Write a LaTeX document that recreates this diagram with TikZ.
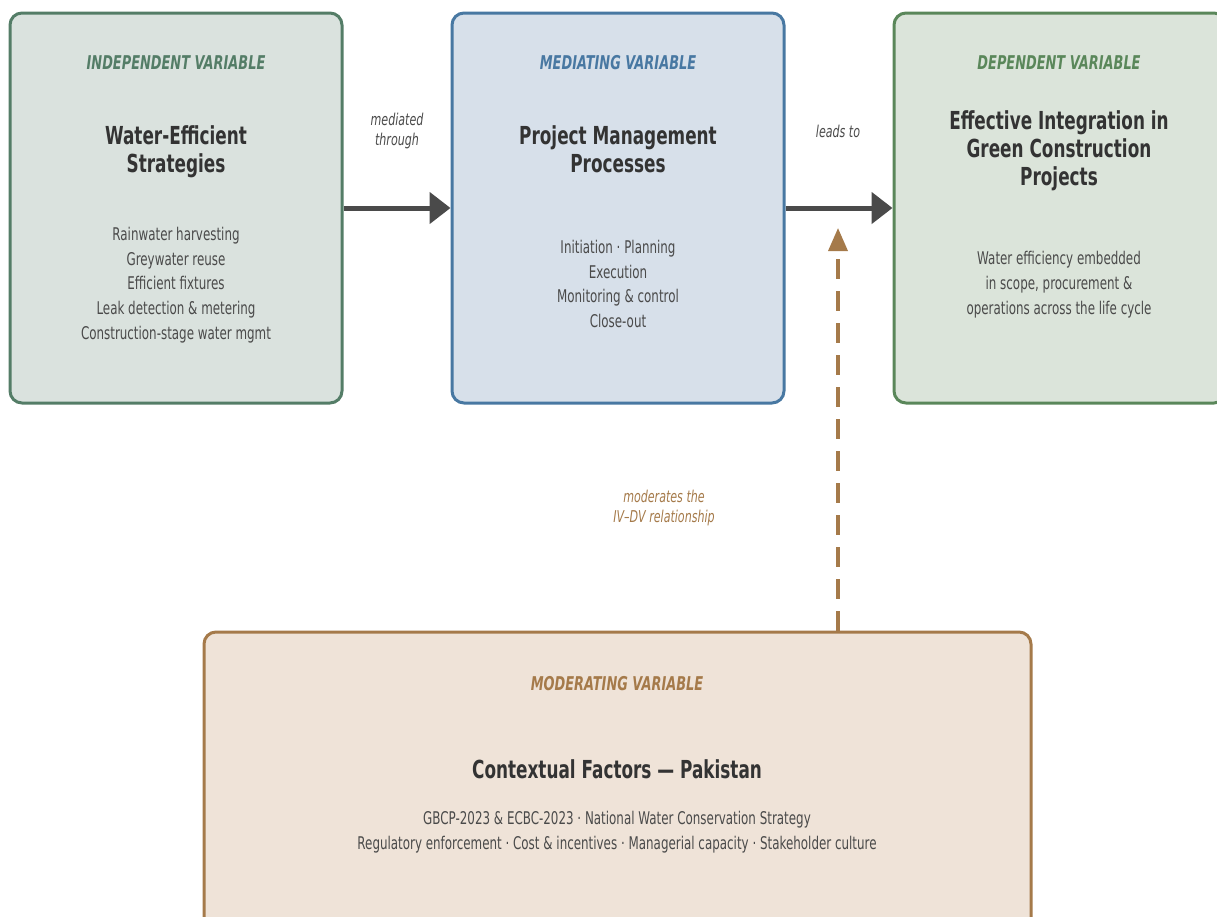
\documentclass[tikz,border=0pt]{standalone}
\usepackage{fontspec}
\setmainfont{DejaVu Sans}[FakeStretch=0.68]
\usetikzlibrary{arrows.meta}
\definecolor{ivborder}{HTML}{547D67}
\definecolor{ivfill}{HTML}{DAE2DE}
\definecolor{mvborder}{HTML}{4878A2}
\definecolor{mvfill}{HTML}{D7E0EA}
\definecolor{dvborder}{HTML}{5A875A}
\definecolor{dvfill}{HTML}{DBE4DA}
\definecolor{mdborder}{HTML}{A57A4A}
\definecolor{mdfill}{HTML}{EFE3D8}
\definecolor{titlecol}{HTML}{333333}
\definecolor{bodycol}{HTML}{4A4A4A}
\definecolor{arrowcol}{HTML}{4A4A4A}
\tikzset{
  varbox/.style={draw, line width=3pt, rounded corners=12pt, inner sep=0pt},
  headtxt/.style={font=\fontsize{19}{22}\selectfont\bfseries\itshape, inner sep=0pt, anchor=center},
  titletxt/.style={font=\fontsize{24.8}{28}\selectfont\bfseries, text=titlecol, align=center, inner sep=0pt, anchor=center},
  bodytxt/.style={font=\fontsize{17.5}{24.7}\selectfont, text=bodycol, align=center, inner sep=0pt, anchor=center},
  labeltxt/.style={font=\fontsize{16.3}{20}\selectfont\itshape, align=center, inner sep=0pt, anchor=center},
  mainlink/.style={draw=arrowcol, line width=5pt, -{Triangle[length=21pt,width=31pt]}},
  modlink/.style={draw=mdborder, line width=3.5pt, dash pattern=on 20pt off 12pt, -{Triangle[length=23pt,width=19pt]}}
}
\begin{document}
\begin{tikzpicture}[x=1pt,y=-1pt]
\useasboundingbox (0,0) rectangle (1217,916);
\clip (0,0) rectangle (1217,916);
% boxes
\node[varbox, draw=ivborder, fill=ivfill, minimum width=332pt, minimum height=390pt] (iv) at (176,208) {};
\node[varbox, draw=mvborder, fill=mvfill, minimum width=332pt, minimum height=390pt] (mv) at (618,208) {};
\node[varbox, draw=dvborder, fill=dvfill, minimum width=332pt, minimum height=390pt] (dv) at (1060,208) {};
\node[varbox, draw=mdborder, fill=mdfill, minimum width=827pt, minimum height=300pt] (md) at (617.5,782) {};
% IV texts
\node[headtxt, text=ivborder] (ivh) at (176,63) {INDEPENDENT VARIABLE};
\node[titletxt] (ivt) at (176,152) {Water-Efficient\\Strategies};
\node[bodytxt] (ivb) at (176,285) {Rainwater harvesting\\Greywater reuse\\Efficient fixtures\\Leak detection \& metering\\Construction-stage water mgmt};
% MV texts
\node[headtxt, text=mvborder] (mvh) at (618,63) {MEDIATING VARIABLE};
\node[titletxt] (mvt) at (618,149) {Project Management\\Processes};
\node[bodytxt] (mvb) at (618,284) {Initiation · Planning\\Execution\\Monitoring \& control\\Close-out};
% DV texts
\node[headtxt, text=dvborder] (dvh) at (1059,63) {DEPENDENT VARIABLE};
\node[titletxt] (dvt) at (1059,151) {Effective Integration in\\Green Construction\\Projects};
\node[bodytxt] (dvb) at (1059,284.5) {Water efficiency embedded\\in scope, procurement \&\\operations across the life cycle};
% Moderator texts
\node[headtxt, text=mdborder] (mdh) at (617,684) {MODERATING VARIABLE};
\node[titletxt] (mdt) at (617,769) {Contextual Factors — Pakistan};
\node[bodytxt, font=\fontsize{17.5}{25.5}\selectfont] (mdb) at (617,832) {GBCP-2023 \& ECBC-2023 · National Water Conservation Strategy\\Regulatory enforcement · Cost \& incentives · Managerial capacity · Stakeholder culture};
% connectors
\draw[mainlink] (iv.east) -- (mv.west);
\draw[mainlink] (mv.east) -- (dv.west);
\coordinate (modtip) at (838,228);
\draw[modlink] (md.north -| modtip) -- (modtip);
% labels
\node[labeltxt, text=bodycol] (lmed) at (397,131) {mediated\\through};
\node[labeltxt, text=bodycol] (llead) at (838,131) {leads to};
\node[labeltxt, text=mdborder] (lmod) at (664,508) {moderates the\\IV–DV relationship};
\end{tikzpicture}
\end{document}
